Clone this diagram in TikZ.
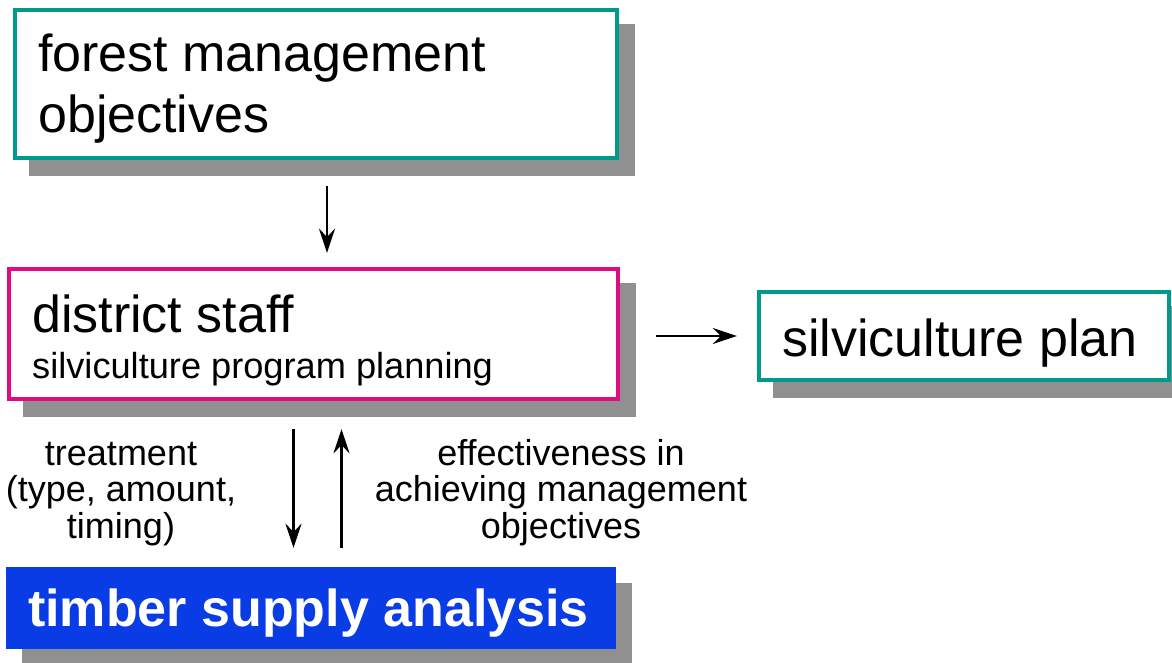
\documentclass[tikz,border=0pt]{standalone}
\usepackage{fontspec}
\setmainfont{Liberation Sans}
\usetikzlibrary{arrows.meta}
\definecolor{tealc}{HTML}{009A8A}
\definecolor{magc}{HTML}{DE0C80}
\definecolor{bluec}{HTML}{0A3CE6}
\definecolor{shadc}{HTML}{909090}
\tikzset{
  bigtxt/.style={inner sep=0pt, anchor=base west, align=left, font=\fontsize{52}{61}\selectfont},
  smalltxt/.style={inner sep=0pt, align=center, font=\fontsize{36}{36.5}\selectfont},
  arr/.style={line width=2.5pt, -{Stealth[length=24pt, width=16pt, inset=8pt]}},
}
\newcommand{\shadowof}[1]{\fill[shadc] ([shift={(14,14)}]#1.north west) rectangle ([shift={(18,18)}]#1.south east);}
\begin{document}
\begin{tikzpicture}[x=1pt,y=-1pt]
\useasboundingbox (0,0) rectangle (1172,663);
% box geometry (stroke centre lines)
\path (316,84) node[minimum width=602pt, minimum height=148pt] (b1) {};
\path (313.5,334) node[minimum width=609pt, minimum height=130pt] (b2) {};
\path (964,336) node[minimum width=410pt, minimum height=88pt] (b3) {};
\path (311,608) node[minimum width=610pt, minimum height=82pt] (b4) {};
% shadows
\shadowof{b1}
\shadowof{b2}
\shadowof{b3}
\fill[shadc] ([shift={(16,16)}]b4.north west) rectangle ([shift={(16,14)}]b4.south east);
% boxes
\draw[tealc, line width=4pt, fill=white] (b1.north west) rectangle (b1.south east);
\draw[magc, line width=4pt, fill=white] (b2.north west) rectangle (b2.south east);
\draw[tealc, line width=4pt, fill=white] (b3.north west) rectangle (b3.south east);
\fill[bluec] (b4.north west) rectangle (b4.south east);
% texts
\node[bigtxt] (t1) at (38,133) {forest management\\objectives};
\node[bigtxt] (t2) at (32,332) {district staff};
\node[inner sep=0pt, anchor=base west, font=\fontsize{36.2}{40}\selectfont] (t2b) at (32,378) {silviculture program planning};
\node[bigtxt] (t3) at (782,356) {silviculture plan};
\node[bigtxt, text=white, font=\fontsize{52}{61}\selectfont\bfseries] (t4) at (28,626) {timber supply analysis};
\node[smalltxt, anchor=base] (l1) at (121,538) {treatment\\(type, amount,\\timing)};
\node[smalltxt, anchor=base] (l2) at (561,538) {effectiveness in\\achieving management\\objectives};
% connectors
\draw[arr, shorten <=28pt, shorten >=16pt] ([xshift=11pt]b1.south) -- ([xshift=11pt]b1.south |- b2.north);
\draw[arr, shorten <=38pt, shorten >=22pt] (b2.east |- b3.west) -- (b3.west);
\draw[arr, shorten <=30pt, shorten >=19pt] ([xshift=-20pt]b2.south) -- ([xshift=-20pt]b2.south |- b4.north);
\draw[arr, shorten <=19pt, shorten >=30pt] ([xshift=28pt]b2.south |- b4.north) -- ([xshift=28pt]b2.south);
\end{tikzpicture}
\end{document}
